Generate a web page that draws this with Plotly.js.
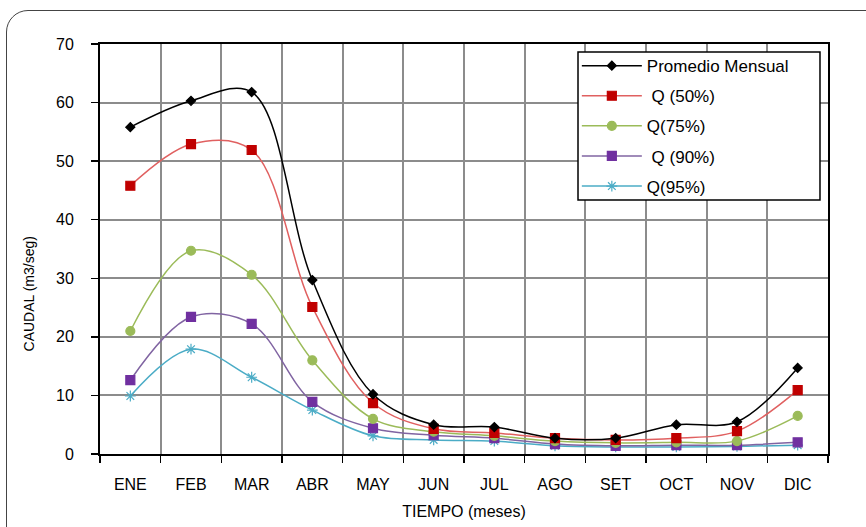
<!DOCTYPE html>
<html><head><meta charset="utf-8">
<script src="https://cdn.plot.ly/plotly-3.0.1.min.js"></script>
<style>
html,body{margin:0;padding:0;background:#fff;overflow:hidden;}
#frame{position:absolute;left:6px;top:10px;width:900px;height:560px;border:1.5px solid #444;border-radius:22px;box-sizing:border-box;}
#chart{position:absolute;left:0;top:0;width:866px;height:527px;}
</style></head>
<body>
<div id="frame"></div>
<div id="chart"></div>
<script>
const months = ["ENE","FEB","MAR","ABR","MAY","JUN","JUL","AGO","SET","OCT","NOV","DIC"];
const promedio = [55.8,60.3,61.8,29.7,10.2,5.0,4.6,2.7,2.7,5.0,5.5,14.7];
const q50 = [45.8,52.9,51.9,25.1,8.7,4.3,3.6,2.7,2.4,2.7,3.9,10.9];
const q75 = [21.0,34.7,30.6,16.0,6.0,3.8,3.1,2.2,1.9,2.0,2.2,6.5];
const q90 = [12.6,23.4,22.2,8.9,4.4,3.2,2.7,1.7,1.4,1.5,1.5,2.0];
const q95 = [9.9,17.9,13.1,7.5,3.1,2.4,2.2,1.4,1.2,1.2,1.3,1.5];
const names = ["Promedio Mensual"," Q (50%)","Q(75%)"," Q (90%)","Q(95%)"];
const yTitle = "CAUDAL (m3/seg)";
const xTitle = "TIEMPO (meses)";

function tr(y, name, lc, mc, sym, ms, rank){
  return {x: months, y: y, name: name, type: "scatter", mode: "lines+markers",
    line: {color: lc, width: 1.5, shape: "spline", smoothing: 1},
    marker: {color: mc, symbol: sym, size: ms, line: {color: mc, width: 1.2}},
    legendgroup: "g" + rank, legendrank: rank};
}
const data = [
  tr(q95, names[4], "#4bacc6", "#4bacc6", "asterisk-open", 9, 5),
  tr(q90, names[3], "#8064a2", "#7030a0", "square", 9, 4),
  tr(q75, names[2], "#9bbb59", "#9bbb59", "circle", 9, 3),
  tr(q50, names[1], "#e06060", "#c00000", "square", 9, 2),
  tr(promedio, names[0], "#000000", "#000000", "diamond", 7, 1)
];
const layout = {
  width: 866, height: 527,
  margin: {l: 100, r: 38, t: 44, b: 73},
  paper_bgcolor: "rgba(0,0,0,0)", plot_bgcolor: "rgba(0,0,0,0)",
  font: {family: "Liberation Sans, Arial, sans-serif", color: "#000", size: 16},
  showlegend: true,
  legend: {x: 0.655, y: 0.99, xanchor: "left", yanchor: "top",
    borderwidth: 0, bgcolor: "rgba(0,0,0,0)",
    font: {size: 17, color: "#000"}, traceorder: "grouped", tracegroupgap: 5,
    itemwidth: 60},
  shapes: [{type: "rect", xref: "paper", yref: "paper", layer: "above",
    x0: 0.6566, x1: 0.989, y0: 0.6195, y1: 0.9805,
    fillcolor: "#fff", line: {color: "#000", width: 1.5}}],
  annotations: [{text: yTitle, xref: "paper", yref: "paper", x: -0.097, y: 0.39,
    xanchor: "center", yanchor: "middle", textangle: -90, showarrow: false,
    font: {size: 14, color: "#000"}}],
  xaxis: {type: "category", tickson: "boundaries", ticks: "outside", ticklen: 7,
    tickcolor: "#000", tickwidth: 1.5, showgrid: true, gridcolor: "#8c8c8c", gridwidth: 2,
    showline: true, linecolor: "#000", linewidth: 2, mirror: true,
    tickfont: {size: 16}, ticklabelstandoff: 15, range: [-0.5, 11.5],
    title: {text: xTitle, font: {size: 16}, standoff: 14}},
  yaxis: {range: [0, 70], dtick: 10, ticks: "outside", ticklen: 7, tickcolor: "#000", tickwidth: 1.5,
    showgrid: true, gridcolor: "#8c8c8c", gridwidth: 2,
    showline: true, linecolor: "#000", linewidth: 2, mirror: true, zeroline: false,
    tickfont: {size: 16}, ticklabelstandoff: 14}
};
Plotly.newPlot("chart", data, layout, {staticPlot: true});
</script>
</body></html>
